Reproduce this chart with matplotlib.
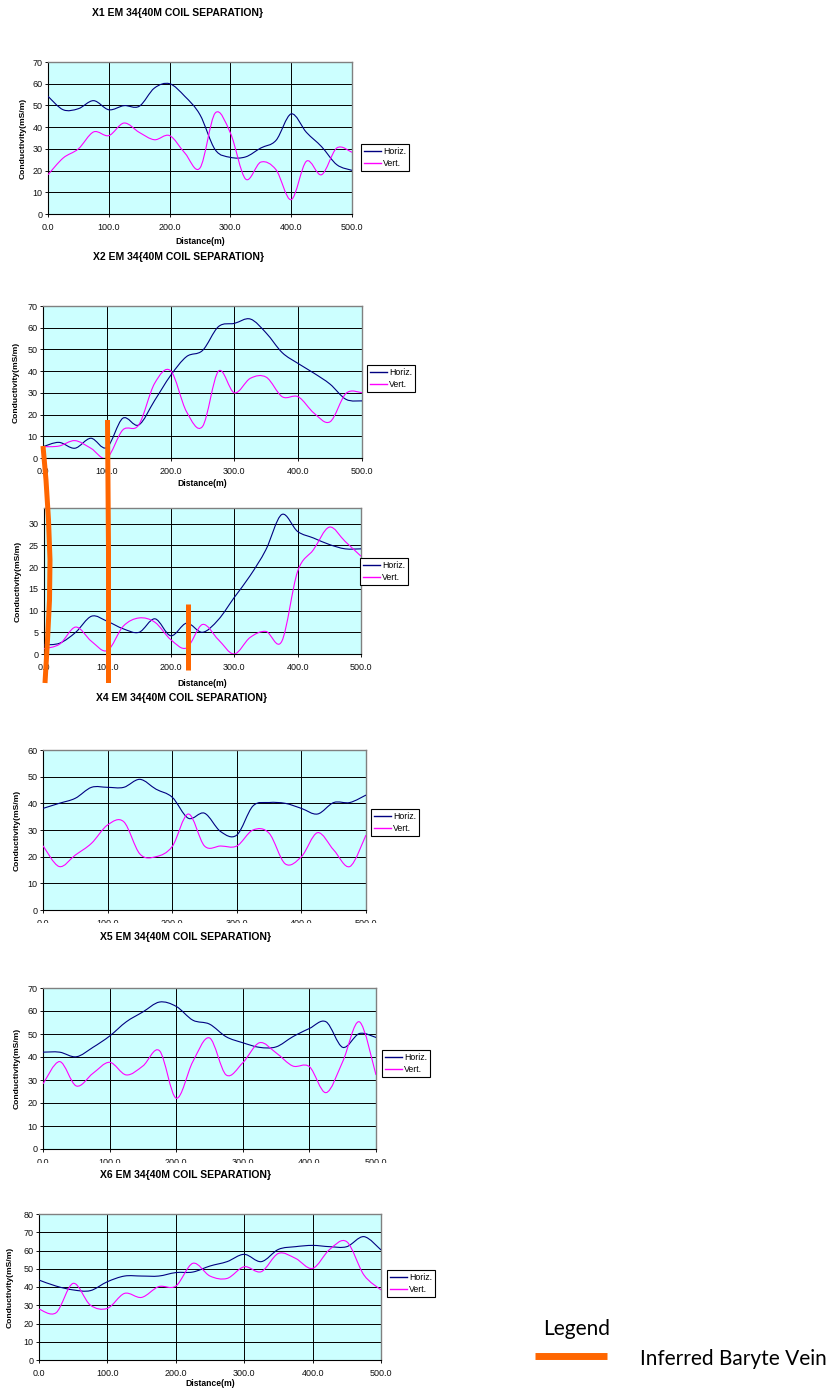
import matplotlib.pyplot as plt
import numpy as np
from matplotlib.path import Path
from matplotlib.patches import PathPatch, Rectangle
from matplotlib.lines import Line2D
from matplotlib.ticker import FormatStrFormatter

plt.rcParams['font.family'] = ['Liberation Sans', 'DejaVu Sans']

# survey stations along each traverse (m)
distance = [0, 25, 50, 75, 100, 125, 150, 175, 200, 225, 250,
            275, 300, 325, 350, 375, 400, 425, 450, 475, 500]

# EM34, 40 m coil separation, conductivity in mS/m
x1_horiz = [54.2, 48.0, 48.5, 52.2, 48.0, 49.9, 49.6, 58.0, 60.0, 54.2, 45.7,
            29.6, 26.1, 26.3, 30.4, 33.9, 46.1, 37.6, 31.0, 22.7, 20.1]
x1_vert = [18.1, 25.8, 30.0, 37.8, 36.1, 41.9, 37.6, 34.2, 36.1, 28.1, 21.2,
           46.5, 37.3, 16.1, 23.9, 20.4, 6.6, 24.3, 18.1, 30.4, 28.4]

x2_horiz = [5.2, 7.2, 4.5, 9.1, 4.8, 18.3, 15.2, 26.5, 38.0, 46.7, 49.5,
            60.5, 62.0, 64.0, 57.5, 48.5, 43.5, 39.0, 34.0, 27.0, 26.3]
x2_vert = [5.2, 5.5, 8.0, 4.5, 0.0, 12.9, 15.2, 34.4, 40.2, 21.3, 14.5,
           40.0, 30.0, 36.7, 37.2, 28.2, 28.2, 20.6, 16.7, 29.8, 30.1]

x3_horiz = [2.1, 2.5, 5.0, 8.7, 7.5, 5.8, 5.0, 8.1, 4.2, 7.1, 5.0,
            7.9, 13.0, 18.0, 24.0, 32.1, 28.2, 26.7, 25.2, 24.2, 24.2]
x3_vert = [1.2, 2.3, 6.2, 2.9, 0.8, 6.4, 8.3, 7.3, 3.3, 1.4, 6.8,
           3.3, 0.0, 3.8, 5.2, 2.9, 19.0, 24.0, 29.2, 25.9, 22.5]

x4_horiz = [38.1, 40.0, 41.9, 46.0, 46.0, 46.0, 49.0, 45.3, 42.3, 34.4, 36.3,
            29.4, 28.1, 39.0, 40.3, 40.0, 38.1, 36.0, 40.3, 40.3, 43.1]
x4_vert = [24.1, 16.3, 20.6, 25.0, 31.9, 33.1, 21.0, 20.0, 23.8, 36.0, 24.0,
           24.0, 24.0, 30.0, 28.8, 17.3, 20.0, 29.0, 22.5, 16.3, 28.1]

x5_horiz = [42.1, 42.1, 40.1, 44.2, 49.1, 55.3, 59.6, 63.9, 62.0, 56.0, 54.3,
            48.8, 46.2, 44.2, 44.4, 48.8, 52.4, 55.3, 44.2, 50.2, 48.5]
x5_vert = [28.3, 38.0, 27.4, 32.9, 37.7, 32.2, 36.1, 42.7, 22.1, 38.0, 48.3,
           32.2, 37.5, 46.2, 41.8, 36.1, 35.8, 24.5, 38.0, 55.3, 32.2]

x6_horiz = [43.8, 40.5, 38.4, 38.0, 42.9, 46.0, 46.0, 46.0, 47.9, 48.2, 51.5,
            53.9, 57.9, 53.9, 60.6, 62.1, 62.8, 62.1, 62.1, 67.6, 60.3]
x6_vert = [27.9, 25.9, 42.0, 30.1, 28.3, 36.5, 34.3, 40.2, 40.5, 53.0, 46.0,
           44.7, 51.1, 48.4, 58.4, 55.7, 50.2, 60.6, 64.8, 46.6, 38.4]

series_names = ['Horiz.', 'Vert.']
title_fmt = '{} EM 34{{40M COIL SEPARATION}}'

W, H = 830, 1390
HORIZ_C = '#000080'
VERT_C = '#FF00FF'
VEIN_C = '#FF6600'
PLOT_BG = '#CCFFFF'

fig = plt.figure(figsize=(W / 100, H / 100), dpi=100)


def fx(x):
    return x / W


def fy(y):
    return 1 - y / H


def smooth_path(xs, ys):
    # Excel style smoothed line: Catmull-Rom segments as cubic Beziers
    p = np.column_stack([xs, ys]).astype(float)
    ext = np.vstack([p[0], p, p[-1]])
    verts = [p[0]]
    codes = [Path.MOVETO]
    for i in range(len(p) - 1):
        c1 = ext[i + 1] + (ext[i + 2] - ext[i]) / 6
        c2 = ext[i + 2] - (ext[i + 3] - ext[i + 1]) / 6
        verts += [c1, c2, p[i + 1]]
        codes += [Path.CURVE4] * 3
    return Path(verts, codes)


def panel(box, horiz, vert, ymax, ystep, ytop, leg_xy, xlabel_y=None,
          ylabel_x=None):
    x0, y0, x1, y1 = box
    ax = fig.add_axes([fx(x0), fy(y1), (x1 - x0) / W, (y1 - y0) / H])
    ax.set_facecolor(PLOT_BG)
    for vals, col in ((horiz, HORIZ_C), (vert, VERT_C)):
        ax.add_patch(PathPatch(smooth_path(distance, vals), fill=False,
                               edgecolor=col, lw=0.8, zorder=3))
    ax.set_xlim(0, 500)
    ax.set_ylim(0, ytop)
    ax.set_xticks(np.arange(0, 501, 100))
    ax.set_yticks(np.arange(0, ymax + 0.1, ystep))
    ax.xaxis.set_major_formatter(FormatStrFormatter('%.1f'))
    ax.grid(True, color='black', lw=0.7)
    ax.set_axisbelow(True)
    ax.tick_params(labelsize=6.5, length=2.5, width=0.7, pad=1.5,
                   colors='#111111')
    ax.tick_params(axis='x', pad=4)
    for s in ('top', 'right'):
        ax.spines[s].set_color('#808080')
        ax.spines[s].set_linewidth(1.0)
    for s in ('left', 'bottom'):
        ax.spines[s].set_color('black')
        ax.spines[s].set_linewidth(0.8)
    h = y1 - y0
    w = x1 - x0
    ax.set_ylabel('Conductivity(mS/m)', fontsize=6.1, fontweight='bold',
                  va='center')
    ax.yaxis.set_label_coords((ylabel_x - x0) / w, 0.5)
    if xlabel_y is not None:
        ax.set_xlabel('Distance(m)', fontsize=6.2, fontweight='bold',
                      va='center')
        ax.xaxis.set_label_coords(0.5, -(xlabel_y - y1) / h)
    handles = [Line2D([], [], color=HORIZ_C, lw=1.0),
               Line2D([], [], color=VERT_C, lw=1.0)]
    leg = ax.legend(handles, series_names, loc='upper left',
                    bbox_to_anchor=(fx(leg_xy[0]), fy(leg_xy[1])),
                    bbox_transform=fig.transFigure, fontsize=6.3,
                    frameon=True, fancybox=False, framealpha=1,
                    edgecolor='black', handlelength=1.9, handletextpad=0.3,
                    borderpad=0.35, labelspacing=0.3, borderaxespad=0)
    leg.get_frame().set_linewidth(0.8)
    return ax


panel((48, 62, 352, 214), x1_horiz, x1_vert, 70, 10, 70, (361, 144),
      xlabel_y=241, ylabel_x=23)
panel((43, 306, 362, 458), x2_horiz, x2_vert, 70, 10, 70, (367, 365),
      xlabel_y=484, ylabel_x=16)
panel((44, 508, 361, 654), x3_horiz, x3_vert, 30, 5, 33.6, (360, 558),
      xlabel_y=683, ylabel_x=18)
panel((43, 750, 366, 910), x4_horiz, x4_vert, 60, 10, 60, (371, 809),
      ylabel_x=17)
panel((43, 988, 376, 1149), x5_horiz, x5_vert, 70, 10, 70, (382, 1050),
      ylabel_x=17)
panel((39, 1214, 381, 1360), x6_horiz, x6_vert, 80, 10, 80, (387, 1270),
      xlabel_y=1383, ylabel_x=10)

# the charts below overlap the lower edge of the ones above
for top, bottom in ((923, 932), (1163, 1170)):
    fig.add_artist(Rectangle((0, fy(bottom)), fx(420), (bottom - top) / H,
                             transform=fig.transFigure, facecolor='white',
                             edgecolor='none', zorder=4))

for name, xc, yc in (('X1', 177, 13), ('X2', 178, 257), ('X4', 181, 698),
                     ('X5', 185, 937), ('X6', 185, 1175)):
    fig.text(fx(xc), fy(yc), title_fmt.format(name), ha='center',
             va='center', fontsize=7.5, fontweight='bold', zorder=6)

# inferred baryte veins sketched across the X2 / X3 profiles
vein_strokes = [
    [(43, 446), (46, 480), (48.5, 520), (50, 560), (49.5, 600), (47.5, 640),
     (45, 683)],
    [(107.5, 420), (108.5, 550), (108.5, 683)],
    [(187.5, 604), (187.5, 670)],
]
for stroke in vein_strokes:
    xs = [fx(p[0]) for p in stroke]
    ys = [fy(p[1]) for p in stroke]
    fig.add_artist(Line2D(xs, ys, color=VEIN_C, lw=3.6,
                          solid_capstyle='butt', transform=fig.transFigure,
                          zorder=8))

# key for the vein strokes
fig.text(fx(543), fy(1329), 'Legend', ha='left', va='center', fontsize=15,
         family=['Lato', 'DejaVu Sans'])
fig.add_artist(Line2D([fx(535), fx(607)], [fy(1355.5), fy(1355.5)],
                      color=VEIN_C, lw=5, solid_capstyle='butt',
                      transform=fig.transFigure))
fig.text(fx(640), fy(1359), 'Inferred Baryte Vein', ha='left', va='center',
         fontsize=15, family=['Lato', 'DejaVu Sans'])

fig.savefig('out.png', dpi=100)
